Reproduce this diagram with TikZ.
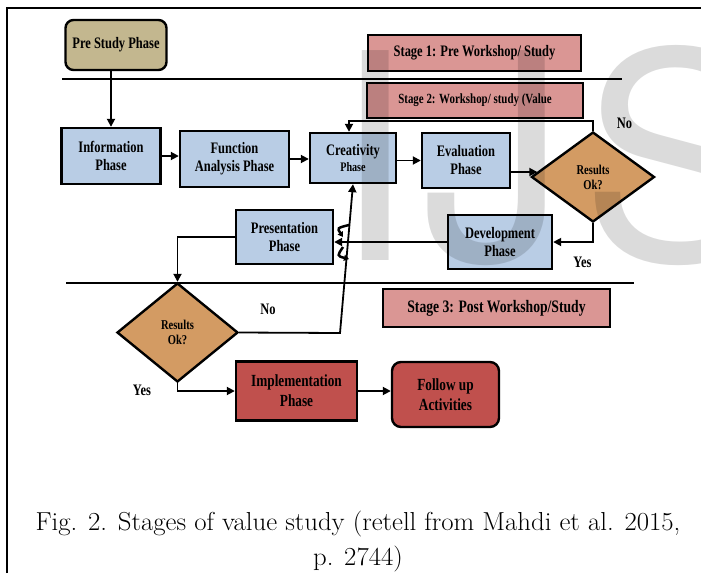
\documentclass[tikz,border=0pt]{standalone}
\usepackage{fontspec}
\newfontfamily\lbl[FakeStretch=0.78]{Liberation Serif}
\newfontfamily\wmfont{TeX Gyre Heros}
\newfontfamily\capfont[FakeStretch=1.03]{Latin Modern Roman}
\usetikzlibrary{arrows.meta,shapes.geometric,calc}
\definecolor{cTan}{HTML}{C3B78F}
\definecolor{cBlue}{HTML}{B9CDE5}
\definecolor{cPink}{HTML}{DA9694}
\definecolor{cRed}{HTML}{C0504D}
\definecolor{cWood}{HTML}{D39B63}
\tikzset{
  box/.style={draw, line width=2.4pt, align=center, inner sep=0pt, text=black,
    font=\lbl\bfseries\fontsize{16}{18}\selectfont},
  bluebox/.style={box, fill=cBlue},
  pinkbox/.style={box, fill=cPink},
  redbox/.style={box, fill=cRed, font=\lbl\bfseries\fontsize{17}{20}\selectfont},
  tanbox/.style={box, fill=cTan, rounded corners=8pt},
  dia/.style={box, diamond, fill=cWood, font=\lbl\bfseries\fontsize{13.5}{15}\selectfont},
  lab/.style={inner sep=0pt, font=\lbl\bfseries\fontsize{16}{18}\selectfont},
  arr/.style={line width=1.8pt, -{Triangle[length=8pt,width=8pt]}},
  divider/.style={line width=2pt},
  framel/.style={line width=2pt},
  capt/.style={inner sep=0pt, anchor=base, font=\capfont\fontsize{26}{30}\selectfont},
  wm/.style={inner sep=0pt, outer sep=0pt, anchor=base west, text=black, text opacity=0.14,
    font=\wmfont\fontsize{288}{288}\selectfont},
  curl/.style={line width=2.5pt, -{Triangle[length=5pt,width=6pt]}}
}
\begin{document}
\begin{tikzpicture}[x=1pt,y=-1pt]
\useasboundingbox (0,0) rectangle (701,573);
\fill[white] (0,0) rectangle (701,573);
\coordinate (fa) at (7,573);
\coordinate (fb) at (7,8);
\coordinate (fc) at (701,8);
\draw[framel] (fa) -- (fb) -- (fc);

% dividers
\coordinate (l1a) at (62,79);
\coordinate (l1b) at (622,79);
\coordinate (l2a) at (66,283);
\coordinate (l2b) at (634,283);
\draw[divider] (l1a) -- (l1b);
\draw[divider] (l2a) -- (l2b);

% nodes
\node[tanbox, minimum width=101pt, minimum height=50pt] (pre) at (116,45) {Pre Study Phase};
\node[pinkbox, minimum width=213pt, minimum height=36pt] (st1) at (474.5,53) {Stage 1: Pre Workshop/ Study};
\node[pinkbox, minimum width=216pt, minimum height=35pt, font=\lbl\bfseries\fontsize{14}{16}\selectfont] (st2) at (475,100.5) {Stage 2: Workshop/ study (Value};
\node[pinkbox, minimum width=227pt, minimum height=38pt, font=\lbl\bfseries\fontsize{17.5}{19}\selectfont] (st3) at (496.5,308) {Stage 3: Post Workshop/Study};

\node[bluebox, minimum width=99pt, minimum height=56pt] (info) at (111,156) {Information\\Phase};
\node[bluebox, minimum width=109pt, minimum height=56pt] (func) at (234.5,159) {Function\\Analysis Phase};
\node[bluebox, minimum width=86pt, minimum height=50pt] (crea) at (353,158) {Creativity\\[-2pt]{\fontsize{13}{14}\selectfont Phase}};
\node[bluebox, minimum width=88pt, minimum height=55pt] (eval) at (466,160.5) {Evaluation\\Phase};
\node[dia, minimum width=123pt, minimum height=90pt] (dec1) at (593,177) {Results\\Ok?};
\node[bluebox, minimum width=104pt, minimum height=54pt] (dev) at (500,242) {Development\\Phase};
\node[bluebox, minimum width=97pt, minimum height=54pt] (pres) at (284.5,237) {Presentation\\Phase};
\node[dia, minimum width=121pt, minimum height=99pt] (dec2) at (177.5,332.5) {Results\\Ok?};
\node[redbox, minimum width=121pt, minimum height=59pt] (impl) at (296.5,391) {Implementation\\Phase};
\node[redbox, rounded corners=9pt, minimum width=107pt, minimum height=65pt] (fol) at (445.5,394.5) {Follow up\\Activities};

% labels
\node[lab] (no1) at (624.5,123) {No};
\node[lab] (yes1) at (582.5,262) {Yes};
\node[lab] (no2) at (268,309) {No};
\node[lab] (yes2) at (142,390) {Yes};

% connectors
\draw[arr] (pre.south -| info.north) -- (info.north);
\draw[arr] (info.east) -- (info.east -| func.west);
\draw[arr] (func.east) -- (func.east -| crea.west);
\draw[arr] (crea.east |- eval.east) -- (eval.west);
\draw[arr] ([yshift=5pt]eval.east |- dec1.west) -- ([xshift=7pt,yshift=5pt]dec1.west);
\draw[arr] (dec1.north) -- ++(0,-10) -| ([xshift=-4pt]crea.north);
\draw[arr] (dec1.south) |- (dev.east);
\draw[arr] (dev.west) -- (dev.west -| pres.east);
\draw[arr] (pres.west) -| (dec2.north);
\coordinate (bend) at (340,333);
\draw[arr] (dec2.east) -- (bend) -- (crea.south);
\draw[arr] (dec2.south) |- (impl.west);
\draw[arr] (impl.east) -- (impl.east -| fol.west);

% crossing curls
\coordinate (hop) at (346,242);
\draw[curl] ($(hop)+(3,-17)$) .. controls ($(hop)+(-9,-14)$) .. ($(hop)+(-3,-5)$);
\draw[curl] ($(hop)+(-3,5)$) .. controls ($(hop)+(-9,14)$) .. ($(hop)+(3,17)$);

% caption
\node[capt] (cap1) at (358,530) {Fig. 2. Stages of value study (retell from Mahdi et al. 2015,};
\node[capt] (cap2) at (358,565) {p. 2744)};

% watermark
\begin{scope}
\clip (0,0) rectangle (701,573);
\node[wm] (wmI) at (333,260) {I};
\node[wm] (wmJ) at (422,260) {J};
\node[wm] (wmS) at (581,260) {S};
\end{scope}
\end{tikzpicture}
\end{document}
